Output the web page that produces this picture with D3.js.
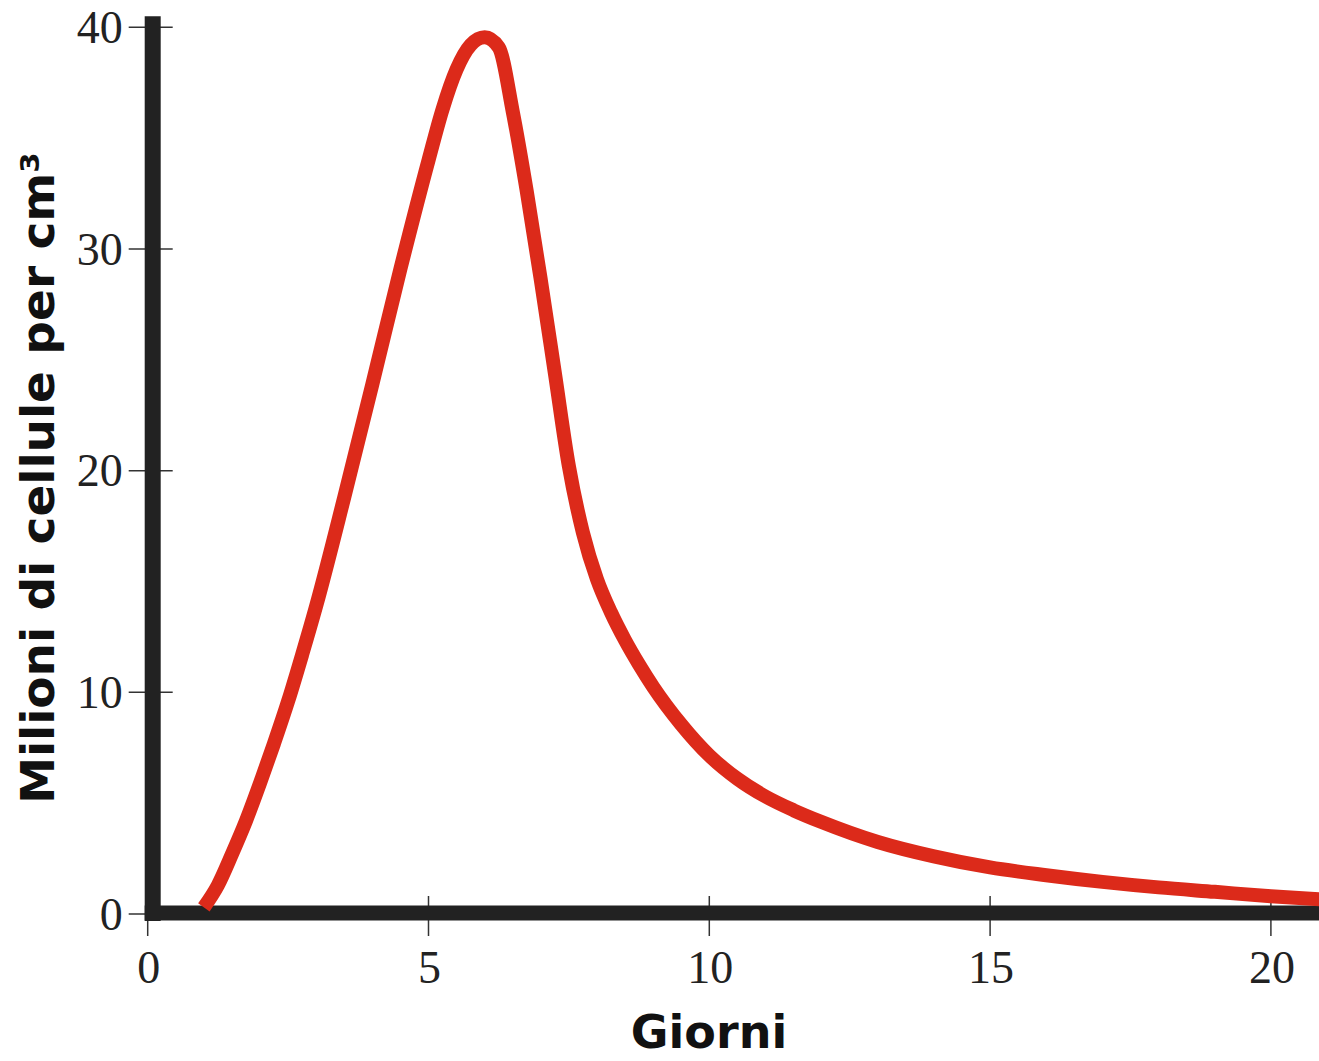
<!DOCTYPE html>
<html>
<head>
<meta charset="utf-8">
<script src="https://cdn.jsdelivr.net/npm/d3@7"></script>
<style>
    body { margin: 0; background: #fff; }
    svg { display: block; }
</style>
</head>
<body>
<svg id="chart" width="1319" height="1061"></svg>
<script>

// Data
var giorni = [1, 1.25, 1.5, 1.75, 2, 2.25, 2.5, 2.75, 3, 3.5, 4, 4.5, 5, 5.25, 5.5, 5.75, 6,
              6.25, 6.5, 6.75, 7, 7.25, 7.5, 7.75, 8, 8.25, 8.5, 8.75, 9, 9.5, 10, 10.5, 11,
              11.5, 12, 13, 14, 15, 16, 17, 18, 19, 20, 20.9];
var cellule = [0.3, 1.3, 2.7, 4.2, 5.9, 7.7, 9.6, 11.7, 13.9, 18.8, 23.9, 29.1, 34.0, 36.3,
               38.1, 39.2, 39.55, 39.1, 36.2, 32.6, 28.6, 24.4, 20.2, 17.2, 15.1, 13.6, 12.35,
               11.25, 10.25, 8.55, 7.15, 6.1, 5.3, 4.68, 4.15, 3.25, 2.6, 2.1, 1.75, 1.45, 1.2,
               1.0, 0.8, 0.66];
var xTicks = [0, 5, 10, 15, 20];
var yTicks = [0, 10, 20, 30, 40];
var xTitle = "Giorni";
var yTitle = "Milioni di cellule per cm\u00b3";

var settings = {
    axisColor : "#222",
    lineColor : "#dc2a1a",
    tickFont : "'Liberation Serif', 'Times New Roman', serif",
    titleFont : "'DejaVu Sans', Verdana, sans-serif"
};

var svg = d3.select("#chart");

// scales (x runs past the right edge, like the original)
var x = d3.scaleLinear().domain([0, 20]).range([147.7, 1270.9]);
var y = d3.scaleLinear().domain([0, 40]).range([914, 27.3]);

// thin tick marks crossing the axes
svg.append("g").selectAll("line").data(yTicks).join("line")
    .attr("x1", x(0) - 19).attr("x2", x(0) + 25)
    .attr("y1", d => y(d)).attr("y2", d => y(d))
    .attr("stroke", "#333").attr("stroke-width", 1.5);

svg.append("g").selectAll("line").data(xTicks).join("line")
    .attr("x1", d => x(d)).attr("x2", d => x(d))
    .attr("y1", y(0) - 18).attr("y2", y(0) + 22)
    .attr("stroke", "#333").attr("stroke-width", 1.5);

// thick axis bars
svg.append("line")
    .attr("x1", x(0) + 5).attr("x2", x(0) + 5)
    .attr("y1", y(40) - 11).attr("y2", y(0) + 7)
    .attr("stroke", settings.axisColor).attr("stroke-width", 16);

svg.append("line")
    .attr("x1", x(0) - 3).attr("x2", 1319)
    .attr("y1", y(0) - 1).attr("y2", y(0) - 1)
    .attr("stroke", settings.axisColor).attr("stroke-width", 15);

// tick labels
svg.append("g").selectAll("text").data(yTicks).join("text")
    .attr("x", x(0) - 25)
    .attr("y", d => y(d))
    .attr("dy", "0.34em")
    .attr("text-anchor", "end")
    .attr("font-family", settings.tickFont)
    .attr("font-size", 46)
    .attr("fill", "#222")
    .text(d => d);

svg.append("g").selectAll("text").data(xTicks).join("text")
    .attr("x", d => x(d) + 1)
    .attr("y", 983)
    .attr("text-anchor", "middle")
    .attr("font-family", settings.tickFont)
    .attr("font-size", 46)
    .attr("fill", "#222")
    .text(d => d);

// the curve
var line = d3.line()
    .x(d => x(d[0]))
    .y(d => y(d[1]))
    .curve(d3.curveMonotoneX);

svg.append("path")
    .datum(d3.zip(giorni, cellule))
    .attr("d", line)
    .attr("fill", "none")
    .attr("stroke", settings.lineColor)
    .attr("stroke-width", 14)
    .attr("stroke-linejoin", "round");

// axis titles
svg.append("text")
    .attr("x", 709).attr("y", 1048)
    .attr("text-anchor", "middle")
    .attr("font-family", settings.titleFont)
    .attr("font-weight", "bold")
    .attr("font-size", 46)
    .attr("fill", "#111")
    .text(xTitle);

svg.append("text")
    .attr("transform", "translate(54,478) rotate(-90)")
    .attr("text-anchor", "middle")
    .attr("font-family", settings.titleFont)
    .attr("font-weight", "bold")
    .attr("font-size", 47)
    .attr("fill", "#111")
    .text(yTitle);

</script>
</body>
</html>
